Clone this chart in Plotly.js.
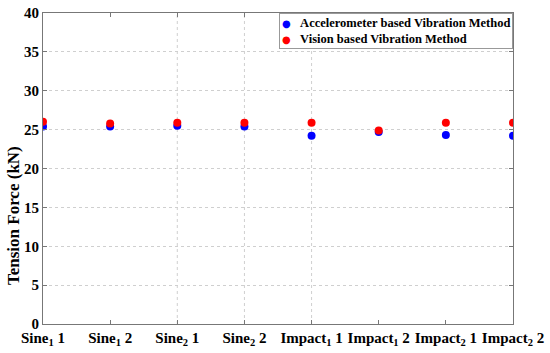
<!DOCTYPE html>
<html>
<head>
<meta charset="utf-8">
<script src="https://cdn.plot.ly/plotly-3.0.1.min.js"></script>
<style>html,body{margin:0;padding:0;background:#fff;}#chart{width:550px;height:353px;}</style>
</head>
<body>
<div id="chart"></div>
<script>
var categories = ["Sine<sub>1</sub> 1", "Sine<sub>1</sub> 2", "Sine<sub>2</sub> 1", "Sine<sub>2</sub> 2",
                  "Impact<sub>1</sub> 1", "Impact<sub>1</sub> 2", "Impact<sub>2</sub> 1", "Impact<sub>2</sub> 2"];
var seriesNames = ["Accelerometer based Vibration Method", "Vision based Vibration Method"];
var accelerometer = [25.4, 25.4, 25.5, 25.4, 24.2, 24.7, 24.3, 24.2];
var vision = [26.0, 25.8, 25.9, 25.9, 25.9, 24.9, 25.9, 25.9];
var yTicks = [0, 5, 10, 15, 20, 25, 30, 35, 40];
var colors = ["#0000ff", "#ff0000"];

var idx = categories.map(function(_, i){ return i; });
var serif = "Liberation Serif, Times New Roman, serif";
function bold(s){ return "<b>" + s + "</b>"; }

var traces = [accelerometer, vision].map(function(vals, k){
  return {x: idx, y: vals, mode: "markers", type: "scatter", name: seriesNames[k], showlegend: false,
          marker: {color: colors[k], size: 8}};
});

var legendText = seriesNames.map(function(n, k){
  return "<span style='color:" + colors[k] + ";font-family:DejaVu Sans;font-size:10px'>●</span>&nbsp;&nbsp;&nbsp;" + bold(n);
}).join("<br>");

var vgrid = [2, 3, 4].map(function(v){
  return {type: "line", xref: "x", yref: "paper", x0: v, x1: v, y0: 0, y1: 1,
          line: {color: "#cfcfcf", width: 1, dash: "dot"}, layer: "below"};
});

var layout = {
  width: 550, height: 353,
  margin: {l: 43, r: 37, t: 13, b: 29},
  paper_bgcolor: "#fff", plot_bgcolor: "#fff",
  font: {family: serif, color: "#000"},
  showlegend: false,
  xaxis: {range: [0, 7], tickvals: idx, ticktext: categories.map(bold), showgrid: false, zeroline: false,
          ticks: "inside", ticklen: 4, tickcolor: "#777", showline: true, linecolor: "#777", mirror: "ticks",
          ticklabelstandoff: 0,
          tickfont: {family: serif, size: 15, color: "#000"}},
  yaxis: {range: [0, 40], tickvals: yTicks, ticktext: yTicks.map(function(v){ return bold(String(v)); }),
          showgrid: true, gridcolor: "#cfcfcf", griddash: "dot", zeroline: false,
          ticks: "inside", ticklen: 4, tickcolor: "#777", showline: true, linecolor: "#777", mirror: "ticks",
          ticklabelstandoff: 0,
          tickfont: {family: serif, size: 15, color: "#000"}},
  annotations: [
    {text: bold("Tension Force (kN)"), textangle: -90, xref: "paper", yref: "paper",
     x: -0.064, y: 0.35, xanchor: "center", yanchor: "middle", showarrow: false,
     font: {family: serif, size: 17, color: "#000"}},
    {text: legendText, xref: "paper", yref: "paper", x: 1, y: 1, xanchor: "right", yanchor: "top",
     align: "left", showarrow: false, bgcolor: "#fff", bordercolor: "#999", borderwidth: 1, borderpad: 2,
     font: {family: serif, size: 12.5, color: "#000"}}
  ],
  shapes: vgrid
};

Plotly.newPlot("chart", traces, layout, {displayModeBar: false, staticPlot: true});
</script>
</body>
</html>
